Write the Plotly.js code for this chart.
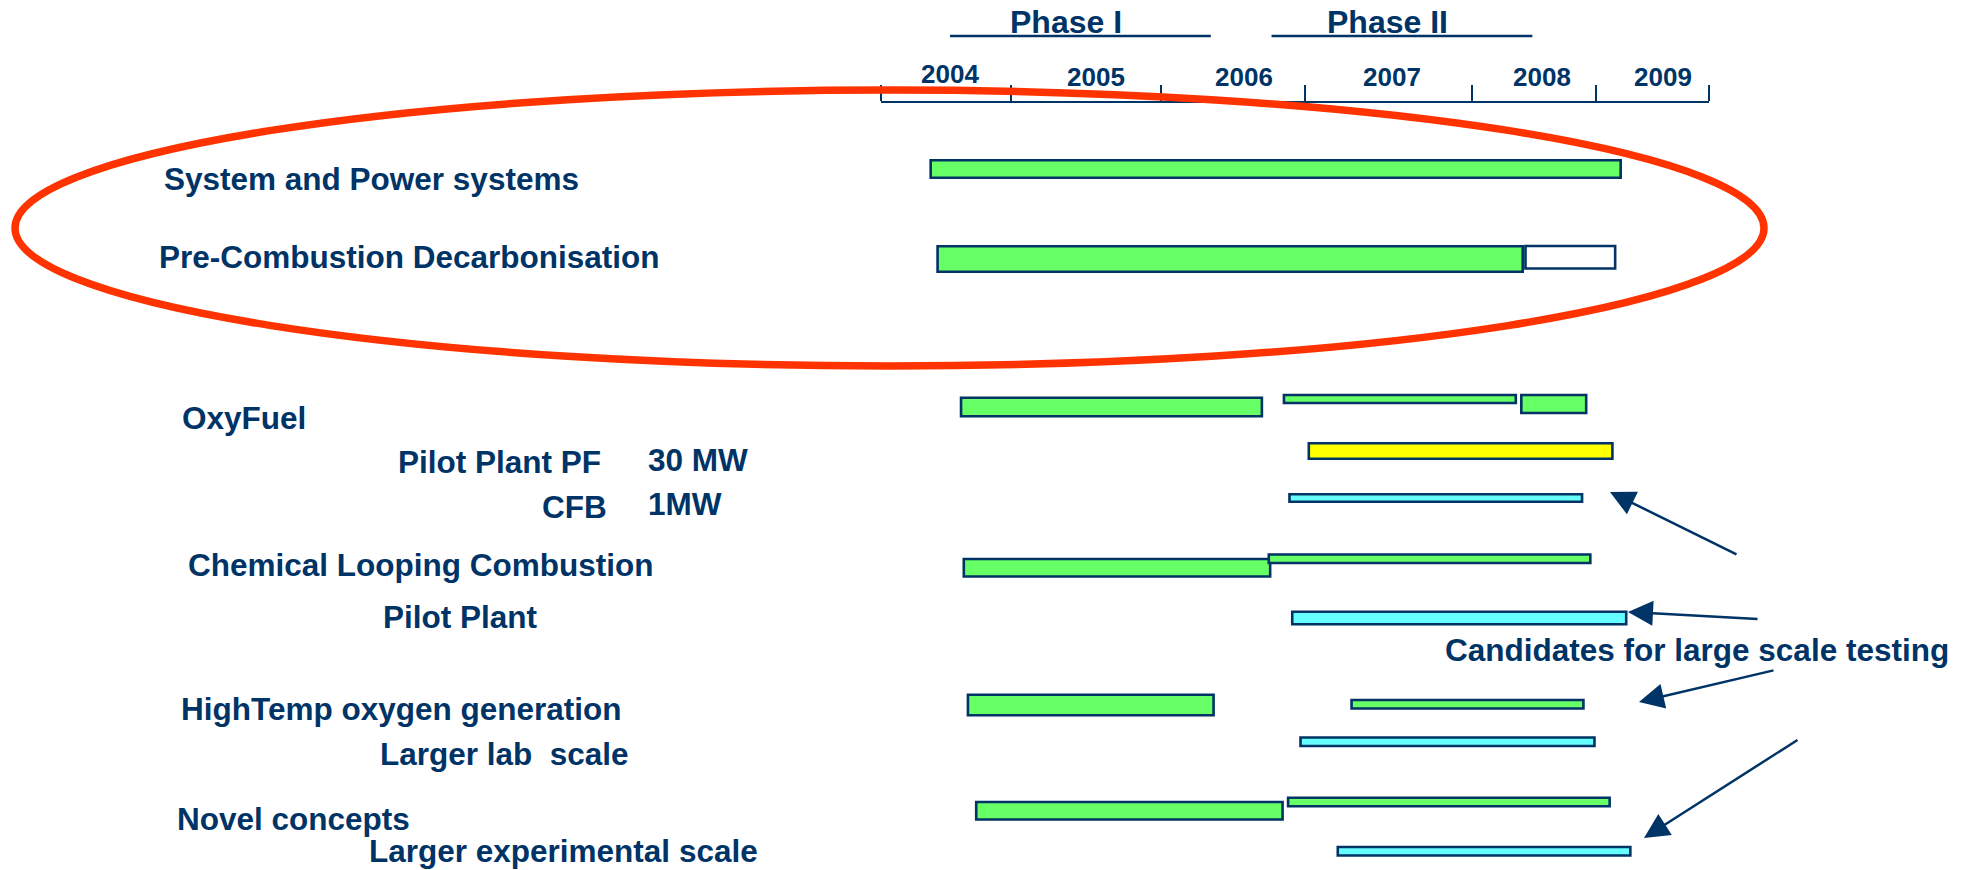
<!DOCTYPE html>
<html>
<head>
<meta charset="utf-8">
<script src="https://cdn.plot.ly/plotly-3.0.1.min.js"></script>
<style>
html,body{margin:0;padding:0;background:#ffffff;}
#chart{width:1976px;height:870px;}
</style>
</head>
<body>
<div id="chart"></div>
<script>
// ================= DATA =================
const tasks = [
  "System and Power systems",
  "Pre-Combustion Decarbonisation",
  "OxyFuel",
  "Pilot Plant PF",
  "CFB",
  "Chemical Looping Combustion",
  "Pilot Plant",
  "HighTemp oxygen generation",
  "Larger lab  scale",
  "Novel concepts",
  "Larger experimental scale"
];
const capacity = ["", "", "", "30 MW", "1MW", "", "", "", "", "", ""];

const years       = ["2004", "2005", "2006", "2007", "2008", "2009"];
const yearEdges   = [2004.00, 2004.94, 2006.03, 2007.07, 2008.28, 2009.18, 2010.00];
const yearLabelAt = [2004.50, 2005.56, 2006.63, 2007.70, 2008.79, 2009.67];

const phases     = ["Phase I", "Phase II"];
const phaseStart = [2004.50, 2006.83];
const phaseEnd   = [2006.39, 2008.72];

// one entry per drawn bar segment
const barTask  = [0, 1, 1, 2, 2, 2, 3, 4, 5, 5, 6, 7, 7, 8, 9, 9, 10];
const barStart = [2004.36, 2004.41, 2008.67, 2004.58, 2006.92, 2008.64, 2007.10, 2006.96, 2004.60, 2006.81, 2006.98, 2004.63, 2007.41, 2007.04, 2004.69, 2006.95, 2007.31];
const barEnd   = [2009.36, 2008.65, 2009.32, 2006.76, 2008.60, 2009.11, 2009.30, 2009.08, 2006.82, 2009.14, 2009.40, 2006.41, 2009.09, 2009.17, 2006.91, 2009.28, 2009.43];
const barKind  = ["work", "work", "planned", "work", "work", "work", "pilot", "scaleup", "work", "work", "scaleup", "work", "work", "scaleup", "work", "work", "scaleup"];

const calloutText = "Candidates for large scale testing";

// ================= LAYOUT / STYLE =================
const W = 1976, H = 870;
const NAVY = "#003366";
const FONT = "Liberation Sans, Arial, Helvetica, sans-serif";
const kindColor = {work: "#66FF66", planned: "#FFFFFF", pilot: "#FFFF00", scaleup: "#66FFFF"};

// timeline axis: pixel span of the drawn axis
const AX_PX = [881, 1709];
const pxPerYear = (AX_PX[1] - AX_PX[0]) / (yearEdges[yearEdges.length - 1] - yearEdges[0]);
const xRange = [yearEdges[0] - AX_PX[0] / pxPerYear, yearEdges[0] + (W - AX_PX[0]) / pxPerYear];
const axisY = 101.5;

// vertical placement (px from top) and thickness of each bar segment
const barY = [169, 259, 257.3, 407, 399, 404, 451, 498, 567.7, 558.7, 618, 705, 704.3, 741.8, 810.7, 802, 851.3];
const barH = [17.5, 25.5, 22.5, 18.5, 8, 18, 15.5, 7.5, 17.5, 8.5, 12.5, 20.5, 8.5, 8.5, 17.5, 8.5, 8.5];

// label placement (left px, cap-centre px)
const labelPos = [[163, 178.5], [158, 257], [181, 418], [397, 462], [541, 507], [187, 565], [382, 617], [180, 709], [379, 754], [176, 819], [368, 851]];
const capacityPos = {3: [647, 460], 4: [647, 504]};
const calloutPos = [1444, 650];

// arrows: tip (px) and tail (px)
const arrows = [
  [[1610, 492], [1738, 555]],
  [[1628, 612], [1759, 619]],
  [[1639, 702], [1775, 670]],
  [[1644, 838], [1799, 739]]
];

const px = v => v / W;

// ================= TRACES =================
const barTrace = {
  type: "bar",
  orientation: "h",
  y: barY,
  base: barStart,
  x: barEnd.map((e, i) => e - barStart[i]),
  width: barH,
  customdata: barTask.map(t => tasks[t]),
  marker: {color: barKind.map(k => kindColor[k]), line: {color: NAVY, width: 2.6}},
  hoverinfo: "skip",
  showlegend: false
};
// anchor trace for the timeline axis
const axisTrace = {
  type: "scatter", mode: "markers",
  x: [yearEdges[0]], y: [-500],
  xaxis: "x2", yaxis: "y",
  marker: {opacity: 0}, hoverinfo: "skip", showlegend: false
};

// ================= ANNOTATIONS =================
const annotations = [];
tasks.forEach((t, i) => {
  annotations.push({
    text: t, xref: "paper", yref: "y", x: px(labelPos[i][0]), y: labelPos[i][1],
    xanchor: "left", yanchor: "middle", showarrow: false, borderpad: 0,
    font: {family: FONT, size: 31.5, color: NAVY, weight: "bold"}
  });
  if (capacity[i]) {
    annotations.push({
      text: capacity[i], xref: "paper", yref: "y", x: px(capacityPos[i][0]), y: capacityPos[i][1],
      xanchor: "left", yanchor: "middle", showarrow: false, borderpad: 0,
      font: {family: FONT, size: 31.5, color: NAVY, weight: "bold"}
    });
  }
});
years.forEach((yr, i) => {
  annotations.push({
    text: yr, xref: "x", yref: "y", x: yearLabelAt[i], y: i === 0 ? 74 : 76.5,
    xanchor: "center", yanchor: "middle", showarrow: false, borderpad: 0,
    font: {family: FONT, size: 26, color: NAVY, weight: "bold"}
  });
});
phases.forEach((p, i) => {
  annotations.push({
    text: p, xref: "x", yref: "y", x: (phaseStart[i] + phaseEnd[i]) / 2, y: 22,
    xanchor: "center", yanchor: "middle", xshift: -14, showarrow: false, borderpad: 0,
    font: {family: FONT, size: 32, color: NAVY, weight: "bold"}
  });
});
annotations.push({
  text: calloutText, xref: "paper", yref: "y", x: px(calloutPos[0]), y: calloutPos[1],
  xanchor: "left", yanchor: "middle", showarrow: false, borderpad: 0,
  font: {family: FONT, size: 31.5, color: NAVY, weight: "bold"}
});
arrows.forEach(a => {
  annotations.push({
    text: "", xref: "paper", yref: "y", x: px(a[0][0]), y: a[0][1],
    ax: a[1][0] - a[0][0], ay: a[1][1] - a[0][1],
    showarrow: true, arrowhead: 2, arrowsize: 2, arrowwidth: 2.5,
    arrowcolor: NAVY, standoff: 0
  });
});

// ================= SHAPES =================
const shapes = phases.map((p, i) => ({
  type: "line", xref: "x", yref: "y",
  x0: phaseStart[i], x1: phaseEnd[i], y0: 36, y1: 36,
  line: {color: NAVY, width: 2.5}
}));
shapes.push({
  type: "circle", xref: "paper", yref: "y", layer: "above",
  x0: px(15), x1: px(1764), y0: 90, y1: 366,
  line: {color: "#FF3300", width: 7.5}, fillcolor: "rgba(0,0,0,0)"
});

const layout = {
  width: W, height: H,
  margin: {l: 0, r: 0, t: 0, b: 0, pad: 0},
  paper_bgcolor: "#ffffff",
  plot_bgcolor: "rgba(0,0,0,0)",
  showlegend: false,
  barmode: "overlay",
  xaxis: {range: xRange, visible: false, fixedrange: true},
  xaxis2: {
    domain: [AX_PX[0] / W, AX_PX[1] / W],
    range: [yearEdges[0], yearEdges[yearEdges.length - 1]],
    anchor: "free", position: 1 - axisY / H, side: "top",
    showline: true, linecolor: NAVY, linewidth: 2.5,
    ticks: "outside", tickvals: yearEdges, ticklen: 16, tickwidth: 2, tickcolor: NAVY,
    showticklabels: false, showgrid: false, zeroline: false, fixedrange: true
  },
  yaxis: {range: [H, 0], visible: false, fixedrange: true},
  annotations: annotations,
  shapes: shapes
};

Plotly.newPlot("chart", [barTrace, axisTrace], layout, {displayModeBar: false, staticPlot: true});
</script>
</body>
</html>
